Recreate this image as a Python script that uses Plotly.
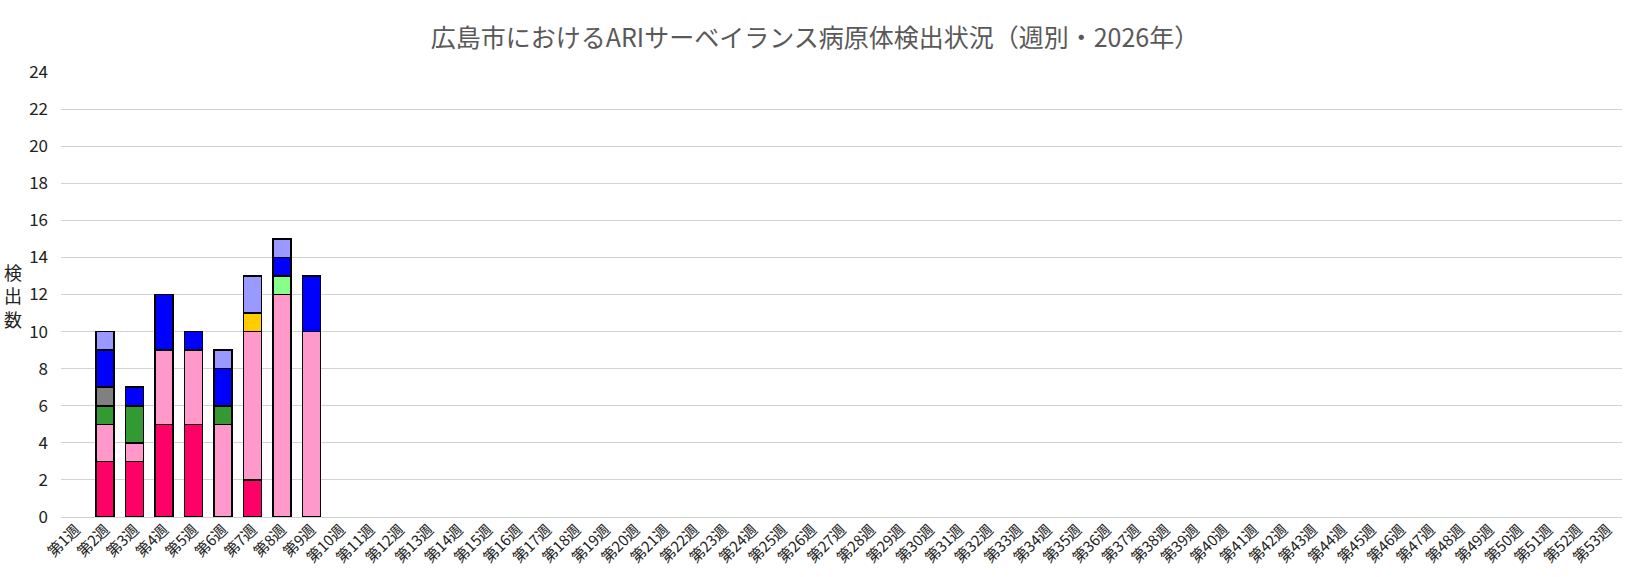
import plotly.graph_objects as go

# 週ラベル (第1週〜第53週)
weeks = [f"第{i}週" for i in range(1, 54)]

# 病原体別の検出数 (第1週〜第9週, 以降は未集計)
covid     = [0, 3, 3, 5, 5, 0, 2, 0, 0]
flu       = [0, 2, 1, 4, 4, 5, 8, 12, 10]
rsv       = [0, 1, 2, 0, 0, 1, 0, 0, 0]
hmpv      = [0, 1, 0, 0, 0, 0, 0, 0, 0]
adeno     = [0, 0, 0, 0, 0, 0, 1, 0, 0]
para      = [0, 0, 0, 0, 0, 0, 0, 1, 0]
rhino     = [0, 2, 1, 3, 1, 2, 0, 1, 3]
others    = [0, 1, 0, 0, 0, 1, 2, 1, 0]

series = [
    ("新型コロナウイルス", covid, "#FF0066"),
    ("インフルエンザウイルス", flu, "#FF99CC"),
    ("RSウイルス", rsv, "#339933"),
    ("ヒトメタニューモウイルス", hmpv, "#808080"),
    ("アデノウイルス", adeno, "#FFCC00"),
    ("パラインフルエンザウイルス", para, "#88FF88"),
    ("ライノウイルス", rhino, "#0000FF"),
    ("その他", others, "#9999FF"),
]

fig = go.Figure()
for name, vals, color in series:
    # 0件の区間は枠線が出ないように欠損扱い
    fig.add_trace(go.Bar(
        x=weeks[:len(vals)], y=[v if v else None for v in vals], name=name,
        marker=dict(color=color, line=dict(color="black", width=1.5)),
    ))

font = "Noto Sans CJK JP"
fig.update_layout(
    barmode="stack",
    bargap=0.39,
    width=1630, height=577,
    margin=dict(l=61, r=8, t=72, b=60),
    plot_bgcolor="white", paper_bgcolor="white",
    showlegend=False,
    font=dict(family=font, color="#595959"),
    title=dict(text="広島市におけるARIサーベイランス病原体検出状況（週別・2026年）",
               x=0.5, xanchor="center", y=1 - 38 / 577, yanchor="middle",
               font=dict(size=25, color="#595959", family=font)),
    xaxis=dict(type="category", categoryorder="array", categoryarray=weeks,
               range=[-0.5, 52.5],
               tickangle=-45, tickfont=dict(size=15, color="#222222"),
               showgrid=False, showline=False, ticks="", automargin=False),
    yaxis=dict(range=[0, 24], dtick=2, tickfont=dict(size=17, color="#222222"),
               showgrid=True, gridcolor="#D0D4D0", gridwidth=1,
               zeroline=True, zerolinecolor="#D0D4D0", zerolinewidth=1,
               ticklabelstandoff=12, automargin=False),
    annotations=[dict(text="検<br>出<br>数", showarrow=False,
                      xref="paper", yref="paper",
                      x=(13 - 61) / 1561, xanchor="center",
                      y=(517 - 295) / 445, yanchor="middle",
                      font=dict(size=18, color="#222222"))],
)

fig.write_html("out.html", config={"displayModeBar": False},
               post_script="document.body.style.margin='0';")
